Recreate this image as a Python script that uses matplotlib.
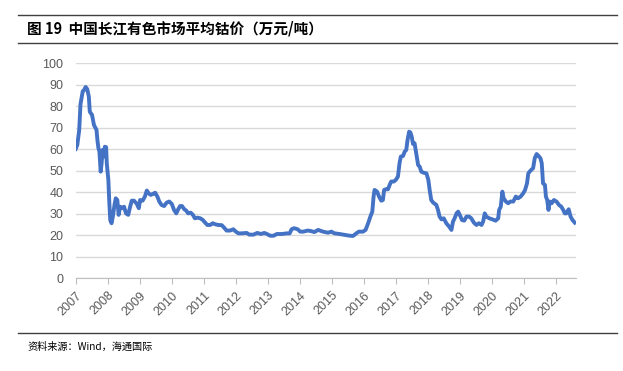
import matplotlib
matplotlib.use("Agg")
import matplotlib.pyplot as plt
from matplotlib.lines import Line2D

plt.rcParams['font.family'] = ['Noto Sans CJK SC', 'DejaVu Sans']

# cobalt price (10k yuan / ton); x = fractional year
t = [2007.00, 2007.05, 2007.11, 2007.15, 2007.22, 2007.26, 2007.31, 2007.36, 2007.41, 2007.44,
     2007.51, 2007.57, 2007.65, 2007.68, 2007.71, 2007.74, 2007.78, 2007.81, 2007.84, 2007.88,
     2007.91, 2007.95, 2007.97, 2008.02, 2008.05, 2008.08, 2008.12, 2008.16, 2008.21, 2008.25,
     2008.30, 2008.34, 2008.39, 2008.45, 2008.51, 2008.57, 2008.64, 2008.70, 2008.75, 2008.82,
     2008.91, 2008.97, 2009.01, 2009.09, 2009.16, 2009.22, 2009.28, 2009.34, 2009.41, 2009.48,
     2009.55, 2009.61, 2009.68, 2009.76, 2009.84, 2009.92, 2010.00, 2010.07, 2010.14, 2010.20,
     2010.26, 2010.32, 2010.39, 2010.45, 2010.51, 2010.59, 2010.66, 2010.72, 2010.80, 2010.89,
     2010.97, 2011.04, 2011.11, 2011.20, 2011.28, 2011.36, 2011.45, 2011.56, 2011.63, 2011.71,
     2011.82, 2011.92, 2012.00, 2012.08, 2012.18, 2012.34, 2012.42, 2012.55, 2012.67, 2012.78,
     2012.89, 2012.97, 2013.07, 2013.18, 2013.28, 2013.44, 2013.59, 2013.68, 2013.74, 2013.82,
     2013.93, 2014.01, 2014.11, 2014.24, 2014.34, 2014.45, 2014.57, 2014.72, 2014.88, 2014.98,
     2015.08, 2015.24, 2015.40, 2015.55, 2015.66, 2015.76, 2015.84, 2015.97, 2016.05, 2016.13,
     2016.20, 2016.26, 2016.30, 2016.33, 2016.41, 2016.47, 2016.54, 2016.59, 2016.63, 2016.68,
     2016.75, 2016.80, 2016.85, 2016.93, 2016.99, 2017.06, 2017.11, 2017.15, 2017.22, 2017.27,
     2017.32, 2017.36, 2017.41, 2017.45, 2017.49, 2017.53, 2017.58, 2017.64, 2017.69, 2017.74,
     2017.79, 2017.86, 2017.95, 2018.01, 2018.05, 2018.10, 2018.16, 2018.26, 2018.31, 2018.36,
     2018.42, 2018.49, 2018.57, 2018.66, 2018.73, 2018.78, 2018.83, 2018.89, 2018.94, 2018.99,
     2019.06, 2019.13, 2019.20, 2019.28, 2019.35, 2019.43, 2019.51, 2019.59, 2019.67, 2019.72,
     2019.77, 2019.82, 2019.91, 2020.01, 2020.11, 2020.19, 2020.22, 2020.27, 2020.32, 2020.36,
     2020.43, 2020.50, 2020.57, 2020.66, 2020.74, 2020.81, 2020.89, 2020.97, 2021.03, 2021.09,
     2021.13, 2021.20, 2021.28, 2021.33, 2021.39, 2021.45, 2021.51, 2021.55, 2021.59, 2021.65,
     2021.68, 2021.72, 2021.76, 2021.80, 2021.86, 2021.93, 2022.01, 2022.09, 2022.16, 2022.22,
     2022.27, 2022.32, 2022.39, 2022.45, 2022.51, 2022.58]
price = [60.2, 62.0, 69.0, 81.0, 87.0, 87.5, 89.0, 88.0, 84.5, 77.5,
         76.0, 71.3, 69.0, 64.0, 60.5, 59.0, 49.6, 53.5, 59.7, 56.6,
         61.2, 61.0, 53.5, 45.7, 35.0, 27.0, 25.6, 28.7, 34.0, 37.2,
         36.4, 29.5, 33.3, 32.6, 33.3, 30.2, 29.5, 33.3, 36.1, 36.1,
         34.6, 32.6, 36.4, 36.1, 38.0, 40.8, 39.5, 38.8, 39.2, 39.8,
         38.0, 35.7, 34.1, 33.6, 35.2, 35.7, 34.6, 31.8, 30.2, 32.1,
         33.6, 33.6, 32.1, 31.5, 30.2, 30.5, 29.5, 27.9, 28.2, 27.9,
         27.1, 25.9, 24.8, 24.8, 25.6, 25.1, 24.8, 24.7, 23.6, 22.2,
         22.2, 22.8, 21.7, 20.9, 20.9, 21.1, 20.3, 20.3, 21.1, 20.6,
         21.1, 20.6, 19.8, 19.8, 20.6, 20.6, 20.9, 20.9, 22.8, 23.3,
         22.8, 21.7, 21.7, 22.2, 22.0, 21.5, 22.5, 21.7, 21.2, 21.7,
         20.9, 20.6, 20.2, 19.8, 19.7, 20.9, 21.7, 21.7, 22.5, 25.6,
         28.7, 31.0, 38.0, 41.1, 40.3, 38.0, 36.1, 36.4, 41.1, 41.4,
         41.4, 43.4, 45.0, 45.0, 45.7, 47.3, 53.5, 56.6, 56.9, 58.9,
         59.7, 64.3, 68.2, 67.8, 65.9, 62.5, 62.8, 57.4, 52.7, 51.9,
         49.6, 49.1, 48.8, 45.7, 41.1, 36.4, 35.2, 34.1, 31.8, 28.7,
         27.4, 27.9, 25.6, 24.0, 22.5, 26.4, 27.9, 30.2, 31.0, 29.5,
         27.1, 26.8, 28.7, 28.7, 27.9, 25.9, 24.8, 25.6, 24.8, 26.4,
         30.2, 28.7, 27.9, 27.4, 26.8, 27.9, 31.8, 33.3, 40.3, 37.2,
         35.7, 34.9, 35.7, 35.7, 38.0, 37.2, 38.0, 39.5, 41.1, 44.2,
         48.8, 50.1, 51.2, 55.8, 57.8, 56.9, 55.8, 53.5, 44.2, 43.4,
         38.0, 36.4, 31.8, 35.7, 34.9, 36.4, 35.7, 34.1, 33.3, 31.8,
         30.2, 30.2, 32.1, 28.7, 27.1, 25.9]
years = list(range(2007, 2023))
y_ticks = list(range(0, 101, 10))

fig = plt.figure(figsize=(6.23, 3.71), dpi=100)
ax = fig.add_axes([0.1215, 0.2499, 0.8031, 0.5795])

ax.plot(t, price, color='#4472C4', linewidth=2.8, solid_joinstyle='round')

ax.set_xlim(2007, 2022.62)
ax.set_ylim(0, 100)
ax.set_yticks(y_ticks)
ax.set_xticks(years)
ax.set_xticklabels([str(y) for y in years], rotation=45, ha='right',
                   rotation_mode='anchor', family='Liberation Sans')
ax.set_yticklabels([str(v) for v in y_ticks], family='Liberation Sans')
ax.tick_params(axis='x', length=4, color='#BFBFBF', labelsize=9,
               labelcolor='#595959', pad=4)
ax.tick_params(axis='y', length=0, labelsize=9, labelcolor='#595959', pad=9)
ax.grid(axis='y', color='#D9D9D9', linewidth=1)
ax.set_axisbelow(True)
for s in ['top', 'right', 'left']:
    ax.spines[s].set_visible(False)
ax.spines['bottom'].set_color('#BFBFBF')

# frame lines and texts of the report figure
for yy in [1 - 15 / 371, 1 - 43 / 371, 1 - 333 / 371]:
    fig.add_artist(Line2D([18 / 623, 617 / 623], [yy, yy], color='#404040', linewidth=1))
fig.text(27 / 623, 1 - 29 / 371, '图 19  中国长江有色市场平均钴价（万元/吨）',
         fontsize=10.5, fontweight='bold', va='center', ha='left')
fig.text(27 / 623, 1 - 347 / 371, '资料来源：Wind，海通国际',
         fontsize=7.3, va='center', ha='left')

fig.savefig('out.png', dpi=100)
